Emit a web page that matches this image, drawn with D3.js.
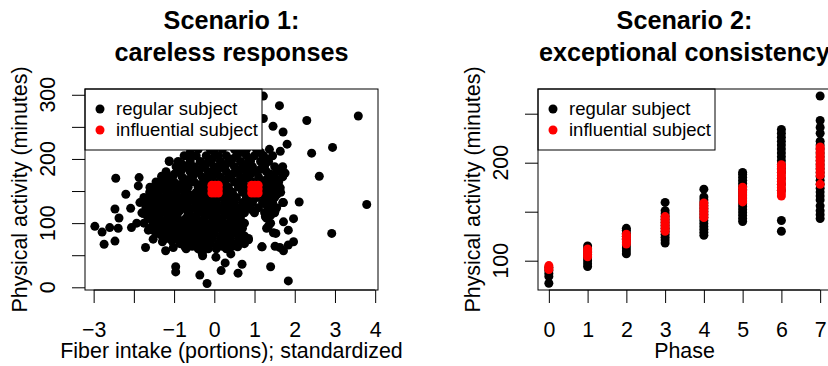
<!DOCTYPE html>
<html>
<head>
<meta charset="utf-8">
<script src="https://cdn.jsdelivr.net/npm/d3@7"></script>
<style>
  body { margin: 0; background: #fff; }
  svg { display: block; font-family: "Liberation Sans", Arial, Helvetica, sans-serif; }
</style>
</head>
<body>
<svg id="chart" width="828" height="366"></svg>
<script>
// ---- Scenario 1: careless responses (fiber vs activity) ----
// dense centre of the cloud, read row by row: [activity, fiber values]
const s1Rows = [
  [60, [-0.7, -0.4, -0.15, 0.05, 0.3]],
  [64, [-0.55, -0.25, 0.2, 0.45]],
  [68, [-0.85, -0.55, -0.35, -0.1, 0.1, 0.35, 0.55, 0.75]],
  [72, [-1.05, -0.65, -0.2, 0.25, 0.65]],
  [76, [-1.2, -0.95, -0.75, -0.5, -0.3, -0.05, 0.15, 0.4, 0.6, 0.85]],
  [80, [-1.3, -1.05, -0.6, -0.15, 0.3, 0.75]],
  [84, [-1.4, -1.15, -0.9, -0.7, -0.45, -0.25, 0.0, 0.2, 0.45, 0.65]],
  [88, [-1.5, -1.25, -1.0, -0.55, -0.1, 0.35, 0.6]],
  [92, [-1.6, -1.3, -1.1, -0.85, -0.65, -0.4, -0.2, 0.05, 0.25, 0.5, 0.7, 1.3]],
  [96, [-1.4, -0.95, -0.5, -0.25, 0.2, 0.45, 1.35]],
  [100, [-1.75, -1.5, -1.25, -1.05, -0.8, -0.6, -0.35, -0.1, 0.1, 0.35, 0.6, 0.75, 1.4]],
  [104, [-1.55, -1.3, -0.85, -0.4, 0.1, 0.55]],
  [108, [-1.65, -1.4, -1.15, -0.95, -0.7, -0.5, -0.25, 0.0, 0.2, 0.45, 0.65, 1.3]],
  [112, [-1.5, -1.05, -0.6, -0.1, 0.35, 0.6, 1.4]],
  [116, [-1.8, -1.55, -1.3, -1.1, -0.9, -0.65, -0.4, -0.2, 0.05, 0.3, 0.5, 0.75, 1.0, 1.25, 1.5]],
  [120, [-1.6, -1.4, -0.85, -0.6, -0.15, 0.2, 0.55, 0.95, 1.45]],
  [124, [-1.7, -1.45, -1.2, -1.0, -0.75, -0.5, -0.3, -0.05, 0.15, 0.4, 0.65, 0.85, 1.1, 1.35, 1.55]],
  [128, [-1.6, -1.35, -0.9, -0.4, 0.0, 0.35, 0.8, 1.3]],
  [132, [-1.85, -1.55, -1.3, -1.1, -0.85, -0.65, -0.4, -0.2, 0.05, 0.25, 0.5, 0.7, 0.95, 1.2, 1.45, 1.7]],
  [136, [-1.65, -1.4, -0.95, -0.5, -0.05, 0.4, 0.9, 1.35]],
  [140, [-1.75, -1.5, -1.25, -1.05, -0.8, -0.6, -0.35, -0.15, 0.1, 0.3, 0.55, 0.8, 1.05, 1.25, 1.5]],
  [144, [-1.5, -1.05, -0.55, -0.1, 0.35, 0.8, 1.25, 1.55]],
  [148, [-1.6, -1.4, -1.15, -0.95, -0.7, -0.45, -0.25, 0.0, 0.2, 0.45, 0.7, 0.9, 1.15, 1.4, 1.65]],
  [152, [-1.5, -1.25, -0.8, -0.3, 0.25, 0.7, 1.2, 1.45]],
  [156, [-1.6, -1.35, -1.1, -0.9, -0.65, -0.4, -0.2, 0.1, 0.35, 0.6, 0.8, 1.3, 1.55]],
  [160, [-1.3, -0.85, -0.35, 0.15, 0.6, 1.05, 1.5]],
  [164, [-1.45, -1.2, -1.0, -0.75, -0.5, -0.25, 0.0, 0.25, 0.5, 0.7, 0.95, 1.2, 1.4, 1.6]],
  [168, [-1.15, -0.65, -0.2, 0.3, 0.75, 1.3, 1.55]],
  [172, [-1.3, -1.05, -0.8, -0.55, -0.3, -0.1, 0.15, 0.4, 0.65, 0.85, 1.1, 1.45, 1.7]],
  [176, [-1.0, -0.5, 0.0, 0.45, 0.9, 1.4]],
  [180, [-1.2, -0.85, -0.6, -0.4, -0.15, 0.05, 0.3, 0.55, 0.8, 1.05, 1.3, 1.55]],
  [184, [-0.8, -0.35, 0.1, 0.65, 1.15, 1.6]],
  [188, [-0.95, -0.7, -0.5, -0.25, 0.0, 0.2, 0.5, 0.75, 0.95, 1.25, 1.5, 1.7]],
  [192, [-0.8, -0.2, 0.3, 0.8, 1.25]],
  [196, [-1.12, -0.9, -0.6, -0.35, -0.1, 0.15, 0.4, 0.65, 0.9, 1.15, 1.35]],
  [200, [-0.6, -0.05, 0.45, 0.9, 1.3]],
  [205, [-0.75, -0.45, -0.2, 0.1, 0.3, 0.55, 0.8, 1.0, 1.22, 1.45]],
  [210, [-0.6, 0.0, 0.65, 1.15]],
  [215, [-0.4, -0.1, 0.2, 0.5, 0.8, 1.05]],
  [225, [-0.3, 0.0, 0.35, 0.7, 1.0]]
];

// scattered points around the cloud: [fiber, activity]
const s1Scatter = [
  [-2.97, 95], [-2.79, 86], [-2.74, 67], [-2.6, 93], [-2.47, 72], [-2.45, 170],
  [-2.39, 92], [-2.37, 108], [-2.47, 122], [-2.2, 145], [-2.08, 123], [-2.06, 93],
  [-1.93, 100], [-1.87, 171], [-1.89, 158], [-1.71, 62], [-1.64, 89], [-1.52, 75],
  [-1.49, 92], [-1.77, 133], [-1.77, 115], [-1.6, 149], [-1.29, 71], [-1.21, 57],
  [-1.31, 173], [-1.12, 197], [-1.02, 62], [-0.96, 32], [-0.96, 24], [-0.73, 63],
  [-0.36, 19], [-0.18, 6], [-0.3, 53], [-0.29, 49], [0.04, 47], [0.17, 26],
  [0.27, 38], [0.41, 52], [0.59, 22], [0.69, 36], [0.58, 63], [0.72, 69],
  [0.85, 74], [1.18, 63], [1.4, 32], [1.84, 10], [1.51, 64], [1.63, 62],
  [1.72, 57], [1.84, 66], [1.97, 71], [1.84, 89], [1.97, 107], [1.72, 102],
  [1.51, 119], [1.53, 84], [2.11, 133], [1.72, 132], [1.76, 178], [1.64, 155],
  [2.42, 209], [2.3, 260], [2.61, 173], [2.94, 218], [2.92, 84], [3.58, 267],
  [3.79, 129], [1.22, 298], [1.62, 283], [1.22, 263], [1.46, 251], [1.71, 242],
  [1.81, 223], [1.64, 212], [1.37, 215], [1.22, 204], [1.27, 110], [1.47, 85],
  [1.19, 63]
];

// the two influential (careless) subjects, repeated answers
const s1Influential = [
  [-0.06, 147], [0.02, 147], [0.1, 147], [-0.06, 153], [0.02, 153], [0.1, 153],
  [-0.06, 159], [0.02, 159], [0.1, 159],
  [0.93, 147], [1.01, 147], [1.09, 147], [0.93, 153], [1.01, 153], [1.09, 153],
  [0.93, 159], [1.01, 159], [1.09, 159]
];

// ---- Scenario 2: exceptional consistency (phase vs activity) ----
const phases = [0, 1, 2, 3, 4, 5, 6, 7];
const phaseRegular = [
  [77, 84, 87, 90, 93],
  [94, 97, 100, 103, 106, 109, 112, 115],
  [107, 110, 113, 116, 119, 122, 125, 128, 131, 133],
  [118, 121, 124, 127, 130, 133, 136, 139, 142, 145, 148, 151, 159.5],
  [126, 129, 132, 135, 138, 141, 144, 147, 150, 153, 156, 159, 162, 165, 173],
  [140, 143, 146, 149, 152, 155, 158, 161, 164, 167, 170, 173, 176, 179, 182, 185, 188, 190],
  [130, 141, 172, 178, 184, 190, 194, 198, 202, 206, 210, 214, 218, 222, 226, 230, 234],
  [143, 147, 151, 156, 162, 166, 170, 174, 178, 182, 186, 190, 194, 198, 202, 206, 210, 214, 218, 222, 230, 236, 243, 268]
];
const phaseInfluential = [
  [91, 93, 95],
  [104, 106, 108, 110, 112],
  [117, 119, 121, 123, 125, 127],
  [130, 133, 136, 139, 142, 145],
  [144, 147, 150, 153, 156, 159],
  [160, 163, 166, 169, 172, 175],
  [166, 169, 172, 175, 178, 181, 184, 187, 190, 193, 196, 198],
  [178, 187, 190, 193, 196, 199, 202, 205, 208, 211, 214, 216]
];

const s1Ticks = [-3, -2, -1, 0, 1, 2, 3, 4];
const s1TickLabels = ['\u22123', '', '\u22121', '0', '1', '2', '3', '4'];
const s1YTicks = [0, 50, 100, 150, 200, 250, 300];
const s1YLabels = ['0', '', '100', '', '200', '', '300'];
const s2YTicks = [100, 150, 200, 250];
const s2YLabels = ['100', '', '200', ''];
const legendLabels = ['regular subject', 'influential subject'];

const svg = d3.select('#chart');
const R = 4.5;
const AXIS_FONT = 21.4;

const x1 = d3.scaleLinear().domain([-3.215, 4.07]).range([85, 378]);
const y1 = d3.scaleLinear().domain([-4.2, 309]).range([290, 89]);
const x2 = d3.scaleLinear().domain([-0.28, 7.28]).range([538, 831]);
const y2 = d3.scaleLinear().domain([70.1, 275.2]).range([290, 89]);

function drawFrame(x, y, o) {
  const [left, right] = x.range();
  const [bottom, top] = y.range();
  const g = svg.append('g');

  // x axis ticks + labels
  const xa = g.append('g')
    .attr('transform', `translate(0,${bottom})`)
    .call(d3.axisBottom(x).tickValues(o.xTicks).tickSize(13).tickPadding(19)
      .tickFormat((d, i) => o.xLabels[i]));
  xa.select('.domain').remove();
  xa.selectAll('line').attr('stroke', '#000');
  xa.selectAll('text').attr('font-size', AXIS_FONT).attr('fill', '#000')
    .attr('font-family', 'inherit');
  g.append('line')
    .attr('x1', x(o.xTicks[0])).attr('x2', x(o.xTicks[o.xTicks.length - 1]))
    .attr('y1', bottom).attr('y2', bottom).attr('stroke', '#000');

  // y axis ticks, labels rotated as in base R
  const ya = g.append('g')
    .attr('transform', `translate(${left},0)`)
    .call(d3.axisLeft(y).tickValues(o.yTicks).tickSize(13).tickFormat(''));
  ya.select('.domain').remove();
  ya.selectAll('line').attr('stroke', '#000');
  o.yTicks.forEach((t, i) => {
    if (!o.yLabels[i]) return;
    g.append('text')
      .attr('transform', `translate(${left - 30.5},${y(t)}) rotate(-90)`)
      .attr('text-anchor', 'middle')
      .attr('font-size', AXIS_FONT)
      .text(o.yLabels[i]);
  });

  // axis titles
  g.append('text')
    .attr('x', (left + right) / 2).attr('y', 358)
    .attr('text-anchor', 'middle').attr('font-size', AXIS_FONT)
    .text(o.xTitle);
  g.append('text')
    .attr('transform', `translate(${left - 58},${(top + bottom) / 2}) rotate(-90)`)
    .attr('text-anchor', 'middle').attr('font-size', AXIS_FONT)
    .text('Physical activity (minutes)');

  // main title, two lines
  const t = g.append('text')
    .attr('text-anchor', 'middle').attr('font-size', 25.2).attr('font-weight', 'bold');
  t.append('tspan').attr('x', (left + right) / 2).attr('y', 29).text(o.title[0]);
  t.append('tspan').attr('x', (left + right) / 2).attr('y', 61).text(o.title[1]);

  return g;
}

function drawBoxAndLegend(x, y) {
  const [left, right] = x.range();
  const [bottom, top] = y.range();
  const leg = svg.append('g');
  leg.append('rect')
    .attr('x', left).attr('y', top).attr('width', 177).attr('height', 61)
    .attr('fill', '#fff').attr('stroke', '#000');
  legendLabels.forEach((lab, i) => {
    leg.append('circle')
      .attr('cx', left + 15).attr('cy', top + 20 + i * 21).attr('r', R)
      .attr('fill', i === 0 ? '#000' : '#ff0000');
    leg.append('text')
      .attr('x', left + 31).attr('y', top + 26 + i * 21)
      .attr('font-size', 18.5)
      .text(lab);
  });
  svg.append('rect')
    .attr('x', left).attr('y', top)
    .attr('width', right - left).attr('height', bottom - top)
    .attr('fill', 'none').attr('stroke', '#000');
}

// ---- panel 1 ----
drawFrame(x1, y1, {
  xTicks: s1Ticks, xLabels: s1TickLabels,
  yTicks: s1YTicks, yLabels: s1YLabels,
  xTitle: 'Fiber intake (portions); standardized',
  title: ['Scenario 1:', 'careless responses']
});

const regular1 = s1Rows.flatMap(([a, xs]) => xs.map(f => [f, a])).concat(s1Scatter);

svg.append('g').selectAll('circle')
  .data(regular1).join('circle')
  .attr('cx', d => x1(d[0])).attr('cy', d => y1(d[1])).attr('r', R)
  .attr('fill', '#000');
svg.append('g').selectAll('circle')
  .data(s1Influential).join('circle')
  .attr('cx', d => x1(d[0])).attr('cy', d => y1(d[1])).attr('r', R)
  .attr('fill', '#ff0000');

drawBoxAndLegend(x1, y1);

// ---- panel 2 ----
drawFrame(x2, y2, {
  xTicks: phases, xLabels: phases.map(String),
  yTicks: s2YTicks, yLabels: s2YLabels,
  xTitle: 'Phase',
  title: ['Scenario 2:', 'exceptional consistency']
});

const regular2 = phases.flatMap(p => phaseRegular[p].map(v => [p, v]));
const influential2 = phases.flatMap(p => phaseInfluential[p].map(v => [p, v]));

svg.append('g').selectAll('circle')
  .data(regular2).join('circle')
  .attr('cx', d => x2(d[0])).attr('cy', d => y2(d[1])).attr('r', R)
  .attr('fill', '#000');
svg.append('g').selectAll('circle')
  .data(influential2).join('circle')
  .attr('cx', d => x2(d[0])).attr('cy', d => y2(d[1])).attr('r', R)
  .attr('fill', '#ff0000');

drawBoxAndLegend(x2, y2);
</script>
</body>
</html>
